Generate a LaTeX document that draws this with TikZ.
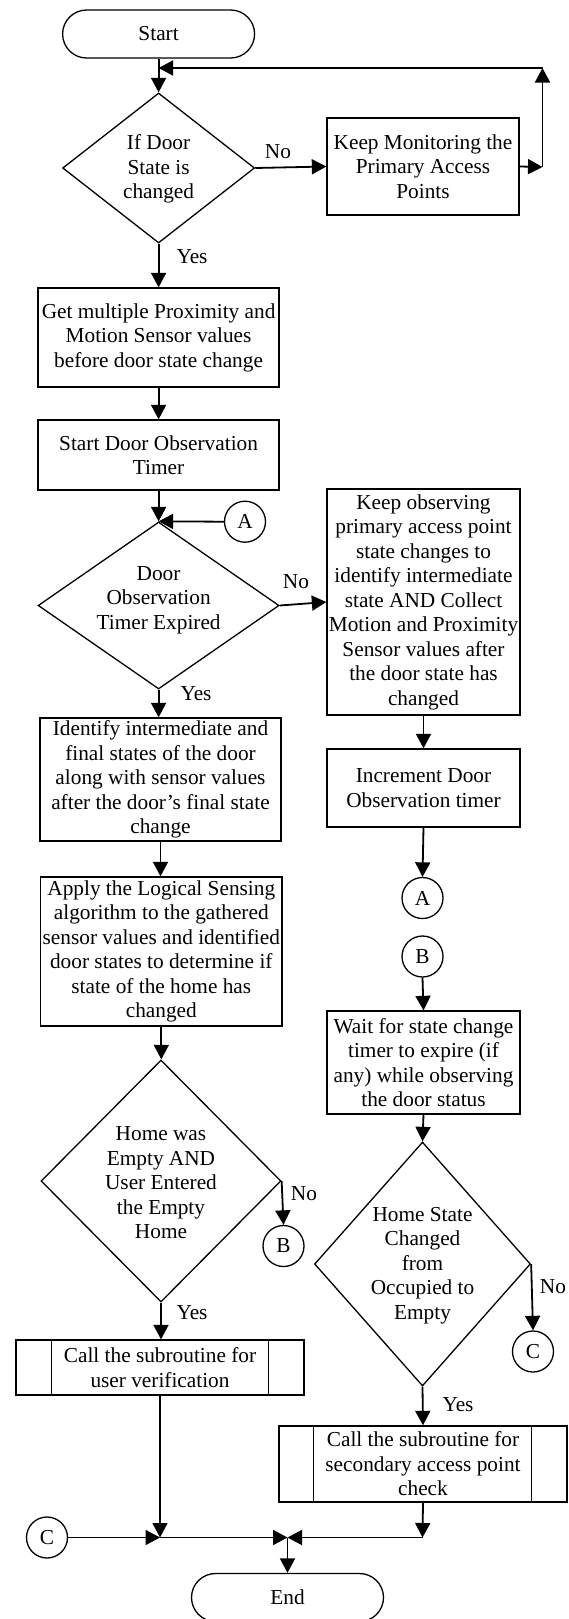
\documentclass[tikz,border=0pt]{standalone}
\usepackage{fontspec}
\setmainfont{Liberation Serif}
\usetikzlibrary{shapes.geometric,shapes.misc,arrows.meta}
\begin{document}
\begin{tikzpicture}[x=1pt,y=-1pt,
  every node/.style={font=\fontsize{21.3}{24.5}\selectfont, inner sep=0pt, align=center},
  term/.style={draw, line width=1.3pt, rounded rectangle, minimum width=192pt, minimum height=48pt},
  proc/.style={draw, line width=1.3pt, rectangle},
  dec/.style={draw, line width=1.3pt, diamond},
  conn/.style={draw, line width=1.3pt, circle, minimum size=41pt},
  flow/.style={line width=1.8pt, -{Triangle[length=14.5pt,width=15pt]}},
  edge/.style={line width=1.3pt}]

\path[fill=white] (0,0) rectangle (568,1619);
\useasboundingbox (0,0) rectangle (568,1619);

% ---- process steps ----
\node[term] (start) at (158.6,34) {Start};
\node[dec, minimum width=192pt, minimum height=150pt] (d1) at (158.6,168) {};
\node (d1t) at (158.6,169) {If Door\\State is\\changed};
\node[proc, minimum width=192pt, minimum height=97pt] (km) at (423,166.5)
  {Keep Monitoring the\\Primary Access\\Points};
\node[proc, minimum width=241pt, minimum height=99pt] (get) at (158.6,337.5)
  {Get multiple Proximity and\\Motion Sensor values\\before door state change};
\node[proc, minimum width=241pt, minimum height=70pt] (sdo) at (158.6,455)
  {Start Door Observation\\Timer};
\node[conn] (ca1) at (245,521.7) {A};
\node[dec, minimum width=241pt, minimum height=167pt] (d2) at (158.6,605.5) {};
\node (d2t) at (158.6,600) {Door\\Observation\\Timer Expired};
\node[proc, minimum width=193pt, minimum height=226pt] (ko) at (423.5,602)
  {Keep observing\\primary access point\\state changes to\\identify intermediate\\state AND Collect\\Motion and Proximity\\Sensor values after\\the door state has\\changed};
\node[proc, minimum width=241pt, minimum height=123pt] (ident) at (160.5,779.5)
  {Identify intermediate and\\final states of the door\\along with sensor values\\after the door’s final state\\change};
\node[proc, minimum width=193pt, minimum height=78pt] (inc) at (423.5,788)
  {Increment Door\\Observation timer};
\node[conn] (ca2) at (422.5,898) {A};
\node[conn] (cb2) at (422.5,956.5) {B};
\node[proc, minimum width=241.4pt, minimum height=149pt] (apply) at (161.3,951.5)
  {Apply the Logical Sensing\\algorithm to the gathered\\sensor values and identified\\door states to determine if\\state of the home has\\changed};
\node[proc, minimum width=193pt, minimum height=103pt] (wait) at (423.5,1062.5)
  {Wait for state change\\timer to expire (if\\any) while observing\\the door status};
\node[dec, minimum width=240pt, minimum height=242pt] (d3) at (161,1181) {};
\node (d3t) at (161,1183) {Home was\\Empty AND\\User Entered\\the Empty\\Home};
\node[conn] (cb1) at (283.5,1246) {B};
\node[dec, minimum width=216pt, minimum height=244pt] (d4) at (422.5,1264) {};
\node (d4t) at (422.5,1265.5) {Home State\\Changed\\from\\Occupied to\\Empty};
\node[conn] (cc2) at (533,1351.5) {C};
\node[proc, minimum width=288pt, minimum height=55pt] (sub1) at (160,1367.5)
  {Call the subroutine for\\user verification};
\node[proc, minimum width=288pt, minimum height=76pt] (sub2) at (423,1464)
  {Call the subroutine for\\secondary access point\\check};
% side bars of the predefined-process boxes
\draw[edge] ([xshift=36pt]sub1.north west) -- ([xshift=36pt]sub1.south west);
\draw[edge] ([xshift=-36pt]sub1.north east) -- ([xshift=-36pt]sub1.south east);
\draw[edge] ([xshift=35pt]sub2.north west) -- ([xshift=35pt]sub2.south west);
\draw[edge] ([xshift=-36pt]sub2.north east) -- ([xshift=-36pt]sub2.south east);
\node[conn] (cc1) at (47,1537.5) {C};
\node[term] (end) at (287.5,1597.5) {End};

% ---- junction and loop points ----
\coordinate (lm) at (158.6,68);
\coordinate (lt) at (542.5,68);
\coordinate (lr) at (542.5,167);
\coordinate (j1) at (160,1537.5);
\coordinate (jm) at (287.5,1537.5);
\coordinate (j2) at (422.5,1537.5);

% ---- branch labels ----
\node (no1) at (278,152) {No};
\node (yes1) at (192,257) {Yes};
\node (no2) at (296,582) {No};
\node (yes2) at (196,694) {Yes};
\node (no3) at (304,1194) {No};
\node (no4) at (553,1287) {No};
\node (yes3) at (192,1313) {Yes};
\node (yes4) at (458,1405) {Yes};

% ---- connectors ----
\draw[flow] (start.south) -- (d1.north);
\draw[flow] (d1.east) -- (km.west);
\draw[flow] (km.east) -- (lr);
\draw[flow] (lr) -- (lt);
\draw[flow] (lt) -- (lm);
\draw[flow] (d1.south) -- (get.north);
\draw[flow] (get.south) -- (sdo.north);
\draw[flow] (sdo.south) -- (d2.north);
\draw[flow] (ca1.west) -- (d2.north);
\draw[flow] (d2.east) -- (ko.west);
\draw[flow] (d2.south) -- (d2.south |- ident.north);
\draw[flow] (ko.south) -- (inc.north);
\draw[flow] (inc.south) -- (ca2.north);
\draw[flow] (ident.south) -- (ident.south |- apply.north);
\draw[flow] (cb2.south) -- (wait.north);
\draw[flow] (wait.south) -- (d4.north);
\draw[flow] (apply.south) -- (apply.south |- d3.north);
\draw[flow] (d3.east) -- (cb1.north);
\draw[flow] (d4.east) -- (cc2.north);
\draw[flow] (d3.south) -- (d3.south |- sub1.north);
\draw[flow] (d4.south) -- (sub2.north);
\draw[flow] (sub1.south) -- (j1);
\draw[flow] (cc1.east) -- (j1);
\draw[flow] (j1) -- (jm);
\draw[flow] (sub2.south) -- (j2);
\draw[flow] (j2) -- (jm);
\draw[flow] (jm) -- (end.north);
\end{tikzpicture}
\end{document}
